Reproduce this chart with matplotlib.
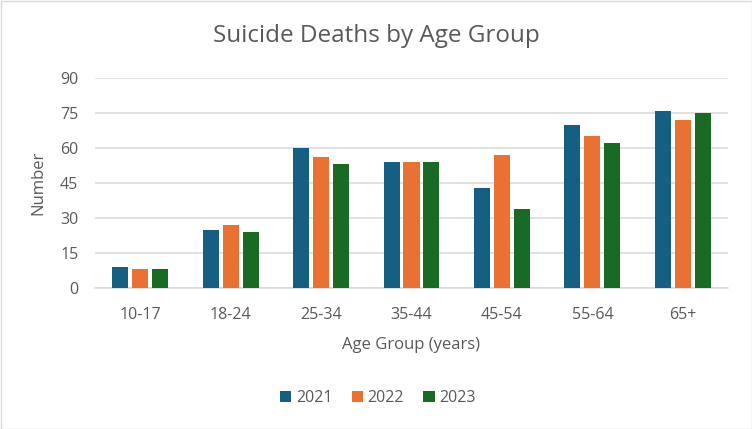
import numpy as np
import matplotlib.pyplot as plt
from matplotlib.patches import Rectangle

age_groups = ['10-17', '18-24', '25-34', '35-44', '45-54', '55-64', '65+']
years = ['2021', '2022', '2023']
deaths_2021 = [9, 25, 60, 54, 43, 70, 76]
deaths_2022 = [8, 27, 56, 54, 57, 65, 72]
deaths_2023 = [8, 24, 53, 54, 34, 62, 75]
colors = ['#156082', '#E97132', '#196B24']

plt.rcParams['font.family'] = ['Open Sans', 'DejaVu Sans']
text_color = '#595959'

fig = plt.figure(figsize=(7.52, 4.29), dpi=100)
ax = fig.add_axes([95 / 752, 1 - 288 / 429, 633 / 752, 210 / 429])

x = np.arange(len(age_groups))
width = 0.177
step = 0.221
for i, (vals, yr) in enumerate(zip([deaths_2021, deaths_2022, deaths_2023], years)):
    ax.bar(x + (i - 1) * step, vals, width, color=colors[i], label=yr, zorder=3)

ax.set_xlim(-0.5, len(age_groups) - 0.5)
ax.set_ylim(0, 90)
ax.set_yticks(np.arange(0, 91, 15))
ax.set_xticks(x)
ax.set_xticklabels(age_groups)
ax.yaxis.grid(True, color='#D9D9D9', linewidth=1.1, zorder=0)
for s in ['top', 'right', 'left']:
    ax.spines[s].set_visible(False)
ax.spines['bottom'].set_color('#D9D9D9')
ax.spines['bottom'].set_linewidth(1.1)
ax.tick_params(axis='both', length=0, labelsize=11.5, labelcolor=text_color)
ax.tick_params(axis='x', pad=14)
ax.tick_params(axis='y', pad=12)

ax.set_xlabel('Age Group (years)', fontsize=12, color=text_color, labelpad=10)
ax.set_ylabel('Number', fontsize=12, color=text_color, labelpad=10)
fig.text(0.5, 1 - 36 / 429, 'Suicide Deaths by Age Group', ha='center', va='center',
         fontsize=17.5, color=text_color)

fig.legend(loc='center', bbox_to_anchor=(378 / 752, 1 - 398 / 429), ncol=3, frameon=False,
           fontsize=11.5, labelcolor=text_color, handlelength=0.7, handleheight=0.7,
           handletextpad=0.3, columnspacing=1.2)

fig.patches.append(Rectangle((0.5 / 752, 0.5 / 429), 1 - 1 / 752, 1 - 1 / 429,
                             transform=fig.transFigure, fill=False,
                             edgecolor='#D9D9D9', linewidth=1))

fig.savefig('out.png', dpi=100)
